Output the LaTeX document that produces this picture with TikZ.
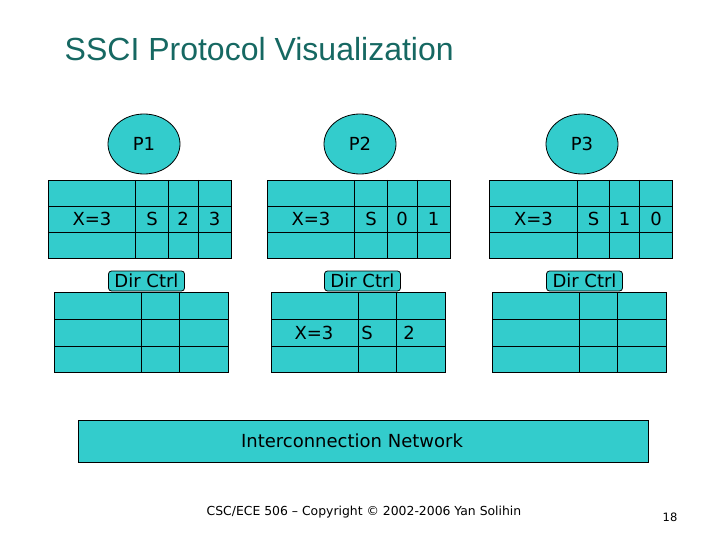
\documentclass[tikz,border=0pt]{standalone}
\usepackage{fontspec}
\setmainfont{DejaVu Sans}
\newfontfamily\titlefont{Liberation Sans}
\usetikzlibrary{shapes.geometric}
\definecolor{cellteal}{RGB}{51,204,204}
\definecolor{titleteal}{RGB}{22,104,98}

\begin{document}
\begin{tikzpicture}[x=1pt, y=-1pt, line width=0.8pt,
    every node/.style={font=\fontsize{18}{21}\selectfont},
    cellbox/.style={draw=black, fill=cellteal},
    proc/.style={ellipse, draw=black, fill=cellteal, minimum width=72pt,
      minimum height=60pt, inner sep=0pt},
    dirtag/.style={draw=black, fill=cellteal, rounded corners=3pt,
      minimum width=76pt, minimum height=20pt, inner sep=1pt}]
  \useasboundingbox (0,0) rectangle (720,540);

  % title
  \node[anchor=base west, text=titleteal, font=\titlefont\fontsize{32}{36}\selectfont]
    (title) at (61,61) {SSCI Protocol Visualization};

  % processors, caches and directories
  \foreach \p/\cx/\tx/\dx in {1/144/48/54, 2/360/267/271, 3/582/489.5/492} {
    \node[proc] (p\p) at (\cx,144) {P\p};
    % cache
    \draw[cellbox] (\tx,180) rectangle ++(183,78);
    \draw (\tx,206.5) -- ++(183,0) (\tx,232.5) -- ++(183,0);
    \foreach \c in {87.5,120,150}
      \draw (\tx+\c,180) -- ++(0,78);
    % directory
    \node[dirtag] (dir\p) at (\cx+2.5,281) {Dir Ctrl};
    \draw[cellbox] (\dx,292) rectangle ++(174,80);
    \draw (\dx,319) -- ++(174,0) (\dx,346) -- ++(174,0);
    \foreach \c in {87,125}
      \draw (\dx+\c,292) -- ++(0,80);
  }

  % cache line contents
  \foreach \p/\tx/\a/\b in {1/48/2/3, 2/267/0/1, 3/489.5/1/0} {
    \node (addr\p) at (\tx+44,218.5) {X=3};
    \node (st\p) at (\tx+104,218.5) {S};
    \node (va\p) at (\tx+135,218.5) {\a};
    \node (vb\p) at (\tx+166.5,218.5) {\b};
  }

  % directory entry at P2
  \node (daddr) at (314,332.5) {X=3};
  \node (dst) at (367,332.5) {S};
  \node (dvec) at (409,332.5) {2};

  % interconnection network
  \draw[cellbox] (78,420) rectangle (648,462);
  \node (net) at (352,441) {Interconnection Network};

  % footer
  \node[font=\fontsize{12.4}{15}\selectfont] (foot) at (364,512)
    {CSC/ECE 506 – Copyright © 2002-2006 Yan Solihin};
  \node[font=\fontsize{11.5}{13}\selectfont] (page) at (670,517) {18};
\end{tikzpicture}
\end{document}
